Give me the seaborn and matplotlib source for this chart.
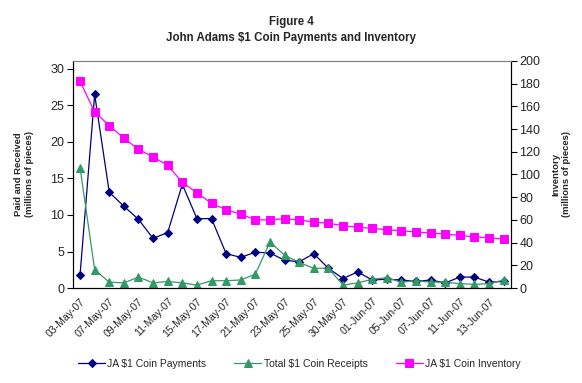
import numpy as np
import pandas as pd
import seaborn as sns
import matplotlib.pyplot as plt

dates = ['03-May-07', '04-May-07', '07-May-07', '08-May-07', '09-May-07', '10-May-07',
         '11-May-07', '14-May-07', '15-May-07', '16-May-07', '17-May-07', '18-May-07',
         '21-May-07', '22-May-07', '23-May-07', '24-May-07', '25-May-07', '29-May-07',
         '30-May-07', '31-May-07', '01-Jun-07', '04-Jun-07', '05-Jun-07', '06-Jun-07',
         '07-Jun-07', '08-Jun-07', '11-Jun-07', '12-Jun-07', '13-Jun-07', '14-Jun-07']

payments = [1.8, 26.5, 13.1, 11.2, 9.4, 6.8, 7.6, 14.2, 9.5, 9.5,
            4.7, 4.2, 4.9, 4.8, 3.8, 3.6, 4.7, 2.7, 1.3, 2.2,
            1.1, 1.2, 1.1, 0.9, 1.1, 0.7, 1.5, 1.5, 0.8, 0.9]

receipts = [16.5, 2.5, 0.8, 0.7, 1.5, 0.7, 0.9, 0.7, 0.4, 1.0,
            1.0, 1.1, 1.9, 6.3, 4.5, 3.5, 2.7, 2.7, 0.4, 0.7,
            1.2, 1.4, 0.8, 1.0, 0.8, 0.8, 0.6, 0.5, 0.6, 1.1]

inventory = [182, 155, 143, 132, 122, 115.5, 108, 93, 84, 74.5,
             69, 65, 60, 60, 61, 60, 58, 57, 55, 53.5,
             52.5, 51.3, 50.4, 49.3, 48.4, 47.5, 46.3, 45, 44.3, 43]

df = pd.DataFrame({'idx': np.arange(len(dates)), 'Date': dates,
                   'pay': payments, 'rec': receipts, 'inv': inventory})

sns.set_style("white")
plt.rcParams['font.family'] = ['Liberation Sans', 'DejaVu Sans']

fig = plt.figure(figsize=(5.82, 3.83), dpi=100)
ax = fig.add_axes([0.125, 0.248, 0.753, 0.593])
ax2 = ax.twinx()

sns.lineplot(data=df, x='idx', y='pay', ax=ax, color='#000080', marker='D',
             markersize=4.5, markeredgecolor='#000080', linewidth=0.9,
             label='JA $1 Coin Payments', legend=False)
sns.lineplot(data=df, x='idx', y='rec', ax=ax, color='#339966', marker='^',
             markersize=6, markeredgecolor='#339966', linewidth=0.9,
             label='Total $1 Coin Receipts', legend=False)
sns.lineplot(data=df, x='idx', y='inv', ax=ax2, color='#FF00FF', marker='s',
             markersize=5.5, markeredgecolor='#FF00FF', linewidth=0.9,
             label='JA $1 Coin Inventory', legend=False)

ax.set_xlim(-0.5, len(dates) - 0.5)
ax.set_ylim(0, 31.1)
ax.set_yticks(np.arange(0, 31, 5))
ax2.set_ylim(0, 200)
ax2.set_yticks(np.arange(0, 201, 20))

ax.set_xticks(np.arange(-0.5, len(dates), 1), minor=True)
ax.set_xticks(np.arange(0, len(dates), 2))
ax.set_xticklabels(dates[::2], rotation=45, ha='right', rotation_mode='anchor', fontsize=7.6)
ax.tick_params(axis='x', which='major', length=0, pad=6)
ax.tick_params(axis='x', which='minor', length=4, width=0.8, color='black', direction='out')
ax.tick_params(axis='y', length=4, width=0.8, color='black', direction='out', labelsize=9, pad=2)
ax2.tick_params(axis='y', length=4, width=0.8, color='black', direction='out', labelsize=9, pad=2)

for a in (ax, ax2):
    for s in a.spines.values():
        s.set_linewidth(0.8)
        s.set_color('black')
    a.spines['top'].set_color('#808080')
    a.grid(False)

ax.set_xlabel('')
ax.set_ylabel('Paid and Received\n(millions of pieces)', fontsize=6.8, fontweight='bold', labelpad=12)
ax2.set_ylabel('Inventory\n(millions of pieces)', fontsize=6.8, fontweight='bold', labelpad=8)

fig.text(0.5, 0.943, 'Figure 4', ha='center', va='center', fontsize=8.3, fontweight='bold')
fig.text(0.5, 0.901, 'John Adams $1 Coin Payments and Inventory', ha='center', va='center',
         fontsize=8.3, fontweight='bold')

h1, l1 = ax.get_legend_handles_labels()
h2, l2 = ax2.get_legend_handles_labels()
fig.legend(h1 + h2, l1 + l2, loc='center', bbox_to_anchor=(0.514, 0.05), ncol=3,
           frameon=False, fontsize=7.5, handlelength=2.6, columnspacing=2.7, handletextpad=0.2)

fig.savefig('out.png', dpi=100)
